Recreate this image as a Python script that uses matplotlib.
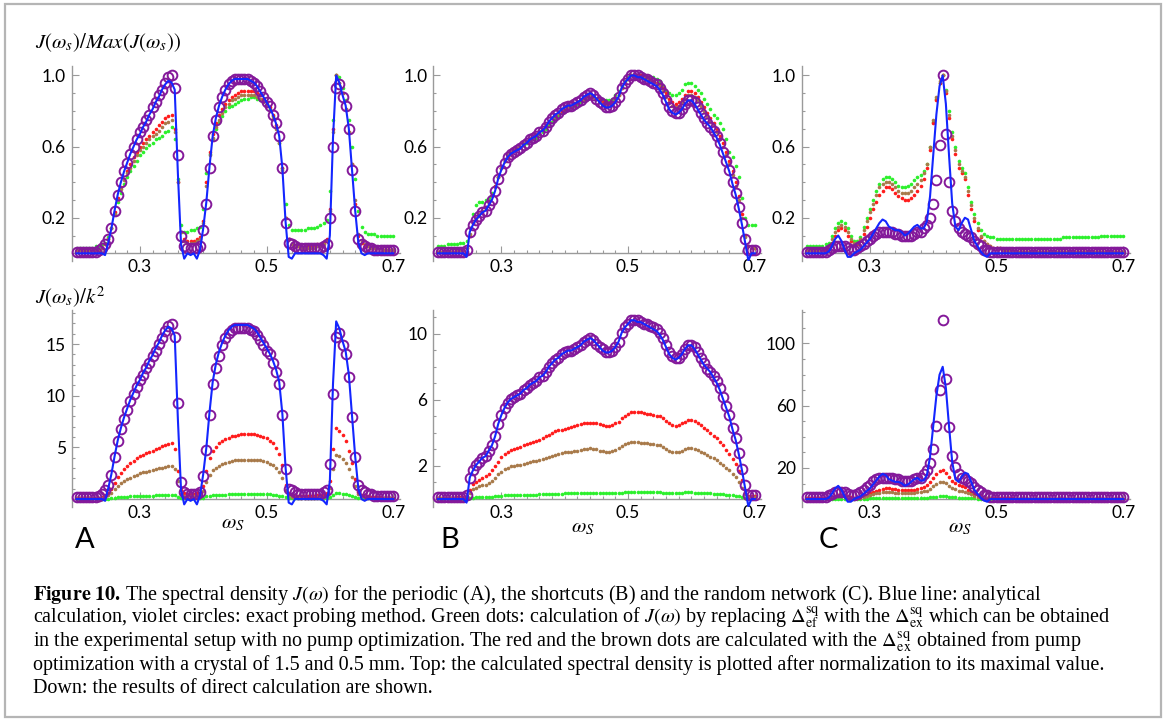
import numpy as np
import matplotlib
matplotlib.use("Agg")
from matplotlib import pyplot as plt
from matplotlib.patches import Rectangle
from matplotlib.ticker import MultipleLocator, FixedLocator

plt.rcParams['font.family'] = ['Lato', 'DejaVu Sans']
plt.rcParams['mathtext.fontset'] = 'stix'

# signal frequency grid, 0.2 .. 0.7
omega = np.linspace(0.2, 0.7, 101)

# top row = curves normalised to their maximum (in %), bottom row = normalised * max value
# panel A (periodic)
a_blue = [0, 0, 0, 0, 0, 0, 0, 0, 0, -1,
          6, 14, 24, 33, 40, 46, 51, 56, 60, 64,
          67, 71, 74, 78, 81, 85, 88, 92, 95, 97,
          96, 92, 45, 5, -3, 0, -1, 0, -3, 2,
          14, 29, 49, 66, 76, 83, 88, 92, 95, 97,
          98, 98, 98, 98, 98, 97, 96, 94, 91, 88,
          85, 82, 78, 73, 66, 48, 18, -2, -3, 0,
          0, 0, 0, 0, 0, 0, 0, 0, -1, -3,
          10, 65, 100, 96, 89, 83, 70, 47, 24, 6,
          0, -1, 0, 0, 0, 0, 0, 0, 0, 0, 0]
a_circ = [1, 1, 1, 1, 1, 1, 1, 2, 3, 5,
          8, 14, 24, 33, 40, 46, 51, 56, 60, 64,
          68, 71, 75, 78, 82, 85, 89, 92, 96, 99,
          100, 93, 55, 10, 4, 3, 3, 3, 3, 4,
          13, 28, 48, 66, 75, 82, 88, 92, 95, 97,
          98, 98, 98, 98, 98, 97, 96, 94, 91, 88,
          85, 83, 78, 73, 66, 48, 17, 6, 5, 4,
          3, 3, 3, 3, 3, 3, 3, 3, 4, 5,
          20, 60, 93, 95, 88, 83, 70, 47, 24, 8,
          5, 4, 3, 3, 2, 2, 2, 2, 2, 2, 2]
a_red = [2, 2, 2, 2, 2, 2, 2, 2, 3, 5,
         8, 14, 23, 31, 37, 42, 46, 50, 54, 57,
         60, 62, 64, 66, 68, 70, 72, 74, 76, 77,
         78, 70, 40, 12, 8, 7, 7, 7, 8, 9,
         18, 40, 57, 67, 73, 78, 81, 84, 86, 88,
         89, 90, 91, 91, 91, 91, 91, 90, 89, 87,
         85, 82, 78, 72, 63, 48, 20, 8, 5, 4,
         4, 4, 4, 4, 4, 4, 5, 5, 6, 8,
         25, 70, 100, 96, 90, 81, 68, 50, 28, 10,
         6, 4, 4, 3, 3, 3, 3, 2, 2, 2, 2]
a_brown = [2, 2, 2, 2, 2, 2, 2, 2, 3, 5,
           8, 14, 22, 30, 36, 41, 45, 48, 52, 55,
           58, 60, 62, 64, 66, 67, 69, 71, 73, 74,
           75, 68, 40, 12, 7, 6, 6, 6, 7, 8,
           17, 38, 55, 65, 71, 75, 79, 82, 84, 86,
           87, 88, 89, 89, 89, 89, 89, 88, 87, 85,
           83, 80, 76, 70, 62, 47, 20, 8, 5, 4,
           4, 3, 3, 3, 3, 3, 4, 4, 5, 7,
           24, 68, 100, 96, 90, 81, 68, 50, 30, 11,
           7, 5, 4, 3, 3, 3, 3, 2, 2, 2, 2]
a_green = [3, 3, 3, 3, 3, 3, 4, 4, 5, 6,
           9, 14, 22, 29, 34, 39, 43, 46, 49, 52,
           55, 57, 59, 61, 62, 64, 65, 66, 68, 69,
           71, 64, 42, 16, 12, 12, 13, 13, 14, 15,
           25, 45, 56, 64, 70, 74, 77, 80, 82, 83,
           84, 85, 86, 87, 87, 88, 88, 87, 86, 85,
           84, 81, 77, 71, 62, 48, 28, 16, 13, 13,
           13, 13, 13, 14, 14, 14, 15, 16, 17, 19,
           35, 75, 100, 99, 93, 86, 75, 60, 42, 24,
           15, 12, 11, 11, 11, 10, 10, 10, 10, 10, 10]

# panel B (shortcuts)
b_blue = [0, 0, 0, 0, 0, 0, 0, 0, 0, -2,
          12, 16, 19, 21, 23, 24, 27, 30, 35, 42,
          47, 51, 54, 56, 57, 58, 59, 61, 62, 64,
          65, 66, 68, 69, 71, 74, 76, 78, 79, 81,
          82, 83, 83, 84, 85, 86, 88, 89, 90, 89,
          87, 85, 83, 82, 82, 83, 85, 88, 93, 96,
          98, 100, 100, 99, 99, 98, 97, 96, 95, 94,
          92, 89, 85, 81, 79, 78, 79, 81, 84, 86,
          86, 84, 81, 78, 75, 73, 71, 68, 65, 61,
          56, 51, 46, 39, 33, 25, 16, 6, -4, 0, 0]
b_circ = [1, 1, 1, 1, 1, 1, 1, 1, 1, 2,
          12, 16, 19, 21, 23, 24, 27, 30, 35, 42,
          47, 51, 54, 56, 57, 58, 59, 61, 62, 64,
          65, 66, 68, 69, 71, 74, 76, 78, 79, 81,
          82, 83, 83, 84, 85, 86, 88, 89, 90, 89,
          87, 85, 84, 82, 82, 83, 85, 88, 93, 96,
          98, 100, 100, 100, 99, 98, 98, 97, 96, 95,
          93, 90, 86, 82, 80, 79, 79, 81, 84, 86,
          86, 85, 82, 79, 76, 73, 71, 69, 66, 62,
          57, 52, 47, 40, 34, 26, 17, 8, 2, 2, 2]
b_red = [1, 1, 1, 1, 1, 1, 2, 2, 2, 3,
         10, 17, 20, 22, 24, 26, 29, 33, 38, 43,
         48, 52, 54, 56, 58, 59, 60, 62, 63, 64,
         66, 67, 68, 70, 72, 74, 76, 78, 79, 80,
         81, 82, 83, 84, 85, 86, 87, 88, 88, 88,
         87, 86, 85, 84, 84, 85, 87, 89, 93, 96,
         98, 100, 100, 100, 100, 99, 98, 98, 97, 96,
         95, 93, 90, 87, 85, 84, 85, 87, 89, 91,
         91, 90, 88, 85, 82, 79, 76, 73, 70, 66,
         62, 57, 52, 46, 40, 32, 22, 10, 4, 3, 3]
b_brown = [1, 1, 1, 1, 1, 1, 2, 2, 2, 3,
           11, 17, 20, 22, 24, 25, 28, 32, 37, 43,
           48, 52, 55, 57, 58, 59, 60, 62, 63, 65,
           66, 67, 69, 70, 72, 74, 76, 78, 79, 81,
           82, 82, 83, 84, 85, 86, 87, 88, 89, 88,
           87, 85, 84, 83, 83, 84, 86, 89, 93, 96,
           98, 100, 100, 100, 99, 99, 98, 97, 96, 95,
           94, 91, 88, 85, 83, 82, 83, 85, 87, 89,
           89, 88, 86, 83, 80, 77, 74, 72, 68, 64,
           60, 55, 50, 44, 38, 30, 20, 9, 4, 3, 3]
b_green = [4, 4, 4, 5, 5, 5, 5, 6, 6, 7,
           14, 22, 27, 29, 29, 30, 31, 34, 38, 43,
           48, 52, 55, 57, 58, 59, 60, 61, 62, 63,
           64, 65, 67, 68, 70, 72, 74, 76, 77, 79,
           80, 81, 82, 83, 84, 85, 86, 87, 88, 88,
           87, 87, 86, 86, 86, 87, 89, 91, 94, 97,
           99, 100, 100, 100, 100, 100, 99, 99, 99, 98,
           97, 94, 91, 90, 89, 89, 90, 92, 95, 96,
           96, 94, 92, 90, 87, 84, 81, 78, 76, 73,
           70, 64, 57, 54, 49, 43, 31, 20, 16, 16, 16]

# panel C (random network)
c_blue = [0, 0, 0, 0, 0, 0, 0, 1, 4, 8,
          10, 7, 2, -2, -2, 0, 1, 2, 4, 6,
          8, 11, 14, 17, 19, 18, 15, 14, 13, 13,
          12, 10, 11, 13, 15, 16, 14, 14, 18, 32,
          55, 78, 94, 100, 84, 55, 28, 15, 13, 17,
          20, 19, 13, 7, 4, 1, -1, -2, 0, 0,
          0, 0, 0, 0, 0, 0, 0, 0, 0, 0,
          0, 0, 0, 0, 0, 0, 0, 0, 0, 0,
          0, 0, 0, 0, 0, 0, 0, 0, 0, 0,
          0, 0, 0, 0, 0, 0, 0, 0, 0, 0, 0]
c_circ = [1, 1, 1, 1, 1, 1, 1, 2, 3, 4,
          4, 4, 4, 3, 2, 2, 3, 4, 5, 7,
          8, 10, 11, 12, 12, 12, 12, 12, 11, 11,
          10, 10, 10, 10, 11, 12, 12, 14, 16, 20,
          28, 41, 61, 100, 67, 40, 24, 18, 14, 12,
          11, 10, 9, 7, 5, 4, 2, 2, 1, 1,
          1, 1, 1, 1, 1, 1, 1, 1, 1, 1,
          1, 1, 1, 1, 1, 1, 1, 1, 1, 1,
          1, 1, 1, 1, 1, 1, 1, 1, 1, 1,
          1, 1, 1, 1, 1, 1, 1, 1, 1, 1, 1]
c_red = [2, 2, 2, 2, 2, 2, 2, 3, 6, 10,
         13, 14, 13, 10, 7, 5, 5, 7, 11, 15,
         20, 25, 29, 33, 35, 37, 37, 36, 34, 32,
         31, 30, 30, 31, 33, 35, 38, 42, 48, 58,
         73, 86, 96, 100, 90, 76, 64, 56, 48, 45,
         42, 33, 25, 18, 13, 9, 7, 5, 4, 3,
         3, 3, 2, 2, 2, 2, 1, 1, 1, 1,
         1, 1, 1, 1, 1, 1, 1, 1, 1, 1,
         1, 1, 1, 1, 1, 1, 1, 1, 1, 1,
         1, 1, 1, 1, 1, 1, 1, 1, 1, 1, 1]
c_brown = [2, 2, 2, 2, 2, 2, 3, 4, 8, 12,
           15, 16, 15, 12, 8, 6, 6, 8, 13, 18,
           23, 28, 33, 37, 39, 40, 40, 39, 37, 35,
           34, 34, 34, 35, 37, 39, 41, 45, 50, 60,
           75, 88, 97, 100, 91, 78, 66, 58, 50, 46,
           43, 35, 27, 20, 14, 10, 7, 5, 4, 3,
           3, 3, 2, 2, 2, 2, 1, 1, 1, 1,
           1, 1, 1, 1, 1, 1, 1, 1, 1, 1,
           1, 1, 1, 1, 1, 1, 1, 1, 1, 1,
           1, 1, 1, 1, 1, 1, 1, 1, 1, 1, 1]
c_green = [4, 4, 4, 4, 4, 4, 5, 6, 10, 14,
           17, 18, 17, 14, 10, 7, 7, 9, 15, 20,
           25, 30, 35, 39, 42, 43, 43, 42, 40, 38,
           37, 37, 38, 39, 41, 43, 44, 46, 50, 60,
           74, 87, 96, 100, 92, 80, 68, 60, 52, 48,
           45, 37, 29, 22, 17, 13, 11, 10, 9, 9,
           8, 8, 8, 8, 8, 8, 8, 8, 8, 8,
           8, 8, 8, 8, 8, 8, 8, 8, 8, 8,
           8, 9, 9, 9, 9, 9, 9, 9, 9, 9,
           9, 9, 9, 10, 10, 10, 10, 10, 10, 10, 10]

# maxima of J(omega_s)/k^2 for each curve
a_max = {'blue': 17.2, 'circ': 16.9, 'red': 6.9, 'brown': 4.3, 'green': 0.55}
b_max = {'blue': 10.8, 'circ': 10.8, 'red': 5.25, 'brown': 3.45, 'green': 0.42}
c_max = {'blue': 85, 'circ': 115, 'red': 18.5, 'brown': 11, 'green': 1.8}

panels = [
    ('A', {'blue': a_blue, 'circ': a_circ, 'red': a_red, 'brown': a_brown, 'green': a_green}, a_max),
    ('B', {'blue': b_blue, 'circ': b_circ, 'red': b_red, 'brown': b_brown, 'green': b_green}, b_max),
    ('C', {'blue': c_blue, 'circ': c_circ, 'red': c_red, 'brown': c_brown, 'green': c_green}, c_max),
]

bottom_ticks = {'A': ([5, 10, 15], 1), 'B': ([2, 6, 10], 1), 'C': ([20, 60, 100], 10)}
bottom_ylim = {'A': (-0.77, 18.3), 'B': (-0.48, 11.42), 'C': (-5.1, 121.5)}

col_blue = '#1426ff'
col_circ = '#84199a'
col_red = '#ff1c1c'
col_brown = '#a87a4a'
col_green = '#2cf02c'
axis_gray = '#9a9a9a'

W, H = 1168, 720
fig = plt.figure(figsize=(W / 100, H / 100), dpi=100)


def px_axes(left, top, width, height):
    return fig.add_axes([left / W, 1 - (top + height) / H, width / W, height / H])


def style(ax, yticks, yminor, ylim):
    ax.set_xlim(0.192, 0.71)
    ax.set_ylim(*ylim)
    for s in ['top', 'right']:
        ax.spines[s].set_visible(False)
    ax.spines['bottom'].set_position(('data', 0))
    for s in ['left', 'bottom']:
        ax.spines[s].set_color(axis_gray)
        ax.spines[s].set_linewidth(1.0)
    ax.xaxis.set_major_locator(FixedLocator([0.3, 0.5, 0.7]))
    ax.xaxis.set_minor_locator(MultipleLocator(0.02))
    ax.set_xticklabels(['0.3', '0.5', '0.7'])
    ax.yaxis.set_major_locator(FixedLocator(yticks))
    ax.yaxis.set_minor_locator(MultipleLocator(yminor))
    ax.tick_params(which='both', direction='in', color=axis_gray, labelsize=12.5, width=0.8)
    ax.tick_params(which='major', length=5, pad=4)
    ax.tick_params(which='minor', length=2.5)


def draw(ax, data, scale):
    ax.plot(omega, np.array(data['green']) * scale['green'] / 100, 'o', ms=2.6, color=col_green, mec='none', zorder=3, clip_on=False)
    ax.plot(omega, np.array(data['red']) * scale['red'] / 100, 'o', ms=2.6, color=col_red, mec='none', zorder=3, clip_on=False)
    ax.plot(omega, np.array(data['brown']) * scale['brown'] / 100, 'o', ms=2.6, color=col_brown, mec='none', zorder=3, clip_on=False)
    ax.plot(omega, np.array(data['circ']) * scale['circ'] / 100, 'o', ms=7, mfc='none', mec=col_circ, mew=1.4, zorder=4, clip_on=False)
    ax.plot(omega, np.array(data['blue']) * scale['blue'] / 100, '-', lw=1.5, color=col_blue, zorder=5)


lefts = [71.5, 433, 801.5]
for (name, data, mx), left in zip(panels, lefts):
    unit = {k: 1.0 for k in mx}
    ax_top = px_axes(left, 66, 328, 195.5)
    draw(ax_top, data, unit)
    style(ax_top, [0.2, 0.6, 1.0], 0.1, (-0.046, 1.053))
    ax_top.set_yticklabels(['0.2', '0.6', '1.0'])

    ax_bot = px_axes(left, 310, 328, 197)
    draw(ax_bot, data, mx)
    yt, ym = bottom_ticks[name]
    style(ax_bot, yt, ym, bottom_ylim[name])
    ax_bot.set_yticklabels([str(t) for t in yt])

# row labels
fig.text(35 / W, 1 - 43 / H, r'$J(\omega_s)/Max(J(\omega_s))$', fontsize=15, va='center', ha='left')
fig.text(35 / W, 1 - 297 / H, r'$J(\omega_s)/k^2$', fontsize=15, va='center', ha='left')

for xc, yc in [(233, 523), (583, 527), (960, 527)]:
    fig.text(xc / W, 1 - yc / H, r'$\omega_S$', fontsize=15, ha='center', va='center')
for lab, xc in [('A', 85), ('B', 450), ('C', 828)]:
    fig.text(xc / W, 1 - 540 / H, lab, fontsize=21, ha='center', va='center')

# caption
caption = [
    r'$\mathbf{Figure\ 10.}\,$The spectral density $J(\omega)$ for the periodic (A), the shortcuts (B) and the random network (C). Blue line: analytical',
    r'calculation, violet circles: exact probing method. Green dots: calculation of $J(\omega)$ by replacing $\Delta_{\rm ef}^{\rm sq}$ with the $\Delta_{\rm ex}^{\rm sq}$ which can be obtained',
    r'in the experimental setup with no pump optimization. The red and the brown dots are calculated with the $\Delta_{\rm ex}^{\rm sq}$ obtained from pump',
    r'optimization with a crystal of 1.5 and 0.5 mm. Top: the calculated spectral density is plotted after normalization to its maximal value.',
    r'Down: the results of direct calculation are shown.',
]
for k, line in enumerate(caption):
    fig.text(33 / W, 1 - (600 + 23.3 * k) / H, line, fontsize=14.5, family=['Liberation Serif', 'DejaVu Serif'],
             ha='left', va='baseline')

fig.add_artist(Rectangle((5 / W, 3 / H), 1156 / W, 713 / H, transform=fig.transFigure,
                         fill=False, ec='#b5b5b5', lw=1.6))

fig.savefig('out.png', dpi=100)
